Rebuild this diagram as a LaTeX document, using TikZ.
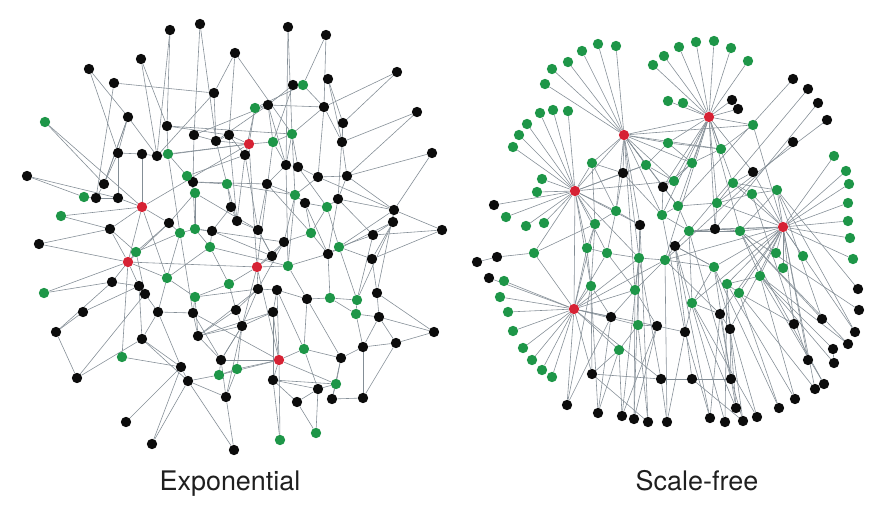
\documentclass[tikz,border=0pt]{standalone}
\usepackage{fontspec}
\setmainfont{TeX Gyre Heros}
\pgfdeclarelayer{bg}
\pgfsetlayers{bg,main}
\definecolor{nodegreen}{RGB}{30,150,72}
\definecolor{nodered}{RGB}{214,34,52}
\definecolor{nodeblack}{RGB}{12,12,12}
\definecolor{edgegray}{RGB}{132,142,150}
\begin{document}
\begin{tikzpicture}[x=0.03cm, y=-0.03cm,
  dot/.style={circle, inner sep=0pt, minimum size=3.1mm},
  kn/.style={dot, fill=nodeblack},
  gn/.style={dot, fill=nodegreen},
  rn/.style={dot, fill=nodered},
  edge/.style={draw=edgegray, line width=0.5pt},
  caption/.style={anchor=base, text=black!88, font=\fontsize{23}{27}\selectfont}]
\useasboundingbox (0,0) rectangle (883,506);
% ---------------- exponential network ----------------
% black nodes
\foreach \n/\x/\y in {e1/170/30, e2/200/24, e3/235/53, e4/141/59, e5/89/69, e6/114/83, e7/214/93,
  e9/128/117, e10/167/126, e11/194/135, e12/216/141, e13/229/135, e14/118/153, e15/142/154,
  e16/157/156, e18/27/176, e20/193/182, e22/104/184, e25/96/198, e26/118/198, e28/231/207,
  e30/169/223, e31/237/221, e32/110/229, e35/212/231, e36/288/27, e37/326/35, e38/397/72,
  e39/293/85, e41/328/79, e43/268/105, e44/324/107, e45/417/112, e46/343/123, e50/342/142,
  e51/245/155, e52/432/153, e53/286/165, e54/298/167, e55/318/177, e56/347/176, e57/267/184,
  e59/305/203, e61/338/199, e62/394/210, e63/393/222, e64/442/230, e65/373/235, e67/258/230,
  e68/39/244, e73/112/282, e74/139/286, e75/145/294, e79/83/312, e80/158/312, e81/193/313,
  e82/236/310, e83/56/332, e84/142/339, e85/198/336, e87/181/367, e88/221/360, e91/188/381,
  e92/77/378, e93/226/397, e94/126/422, e95/152/444, e96/234/450, e97/284/242, e99/272/256,
  e100/328/254, e103/372/259, e104/258/289, e105/277/290, e106/307/299, e109/377/293,
  e111/379/317, e112/273/312, e113/242/326, e114/434/332, e115/396/343, e116/363/347,
  e119/341/358, e120/273/380, e122/318/389, e123/297/402, e124/332/399, e125/363/398}
  \node[kn] (\n) at (\x,\y) {};
% green nodes
\foreach \n/\x/\y in {e8/45/122, e17/168/154, e19/187/176, e21/227/184, e23/195/193, e24/84/197,
  e29/61/216, e33/180/233, e34/195/229, e40/303/85, e42/255/108, e47/292/134, e49/273/142,
  e58/295/195, e60/327/207, e66/311/233, e69/210/247, e70/136/252, e72/44/293, e76/167/278,
  e77/195/297, e78/229/284, e86/122/357, e89/219/375, e90/237/369, e98/339/247, e102/288/266,
  e107/330/298, e108/357/300, e110/356/314, e117/304/349, e121/336/384, e126/280/440, e127/316/433}
  \node[gn] (\n) at (\x,\y) {};
% red nodes
\foreach \n/\x/\y in {e27/142/207, e48/249/144, e71/128/262, e101/257/267, e118/279/360}
  \node[rn] (\n) at (\x,\y) {};
% links
\begin{pgfonlayer}{bg}
\foreach \a/\b in {1/10, 2/11, 3/7, 3/47, 4/16, 5/9, 6/7, 6/25, 36/53, 37/40, 38/46, 39/40,
  40/42, 41/50, 45/50, 52/56, 64/65, 64/62, 114/109, 126/120, 127/123, 96/93, 95/87, 94/87,
  92/75, 83/92, 83/79, 72/71, 68/32, 86/87, 86/71, 79/74, 8/27, 18/26, 29/27, 24/25,
  7/12, 7/16, 9/16, 10/17, 10/13, 11/20, 11/12, 12/13, 13/48, 12/21, 14/22, 14/15, 15/16,
  15/27, 16/17, 17/19, 19/20, 19/23, 20/21, 21/28, 22/25, 25/26, 26/27, 27/30, 27/32, 23/30,
  23/34, 28/31, 28/35, 30/33, 33/34, 34/35, 31/67, 31/51, 35/69, 32/70, 32/71, 33/70, 70/71,
  71/73, 71/74, 73/74, 74/75, 75/80, 76/33, 76/77, 76/80, 77/81, 77/78, 78/82, 69/78, 69/76,
  80/84, 81/85, 82/85, 84/87, 85/88, 87/91, 88/89, 89/90, 90/93, 91/93, 88/113, 82/113,
  113/90, 80/81, 42/43, 42/48, 43/49, 48/49, 48/51, 49/47, 47/53, 47/54, 44/47, 44/50, 46/50,
  50/56, 53/54, 53/57, 54/55, 55/56, 55/58, 56/61, 57/58, 57/67, 58/59, 59/60, 60/61, 61/62,
  62/63, 63/65, 65/98, 59/66, 51/67, 51/13, 48/12, 49/53, 43/44, 39/43, 40/44, 97/99, 97/101,
  99/101, 101/102, 102/100, 100/98, 98/103, 103/109, 97/66, 100/107, 107/108, 108/110,
  109/111, 110/111, 106/107, 106/105, 105/104, 104/101, 104/113, 105/112, 112/118, 118/117,
  117/106, 117/119, 119/116, 116/115, 115/111, 116/110, 118/120, 120/122, 122/121, 121/124,
  124/125, 125/116, 123/120, 122/123, 119/121, 99/67, 104/82, 112/113, 118/89, 102/58, 103/63,
  108/65, 111/114, 27/48, 71/101, 101/118, 48/101, 10/47, 21/58, 34/97, 69/102, 77/104, 76/27,
  30/71, 12/43, 19/51, 23/67, 81/118, 85/112, 20/57, 35/99, 57/66, 54/60, 59/100, 97/104,
  26/14, 22/9, 14/9, 17/48, 11/43, 55/62, 60/98, 61/100, 105/117, 106/119, 62/109, 63/108,
  113/93, 91/89, 88/118, 5/14, 4/10, 9/22, 36/47, 37/44, 38/44, 41/46, 45/56, 52/62, 46/61,
  3/13, 1/16, 2/12, 8/22, 18/24, 29/32, 68/71, 72/73, 83/73, 92/84, 95/91, 96/91, 126/118,
  127/122, 114/115, 64/103, 62/98, 63/100, 44/55, 39/49, 42/51, 43/53, 17/33, 20/34, 21/31,
  13/31, 30/70, 33/81, 34/69, 70/75, 74/84, 80/87, 84/91, 81/88, 85/113, 78/101, 67/99,
  66/100, 58/97, 60/66, 56/62, 61/65, 98/108, 107/110, 102/106, 105/118, 112/120, 117/122,
  119/124, 116/111, 115/125, 120/121, 104/85, 113/88, 90/118, 16/48, 27/71, 71/76, 101/113,
  49/101, 47/58, 53/102, 118/121, 88/93, 77/85}
  \draw[edge] (e\a) -- (e\b);
\end{pgfonlayer}
% ---------------- scale-free network ----------------
% hubs
\node[rn] (h1) at (624,135) {};
\node[rn] (h2) at (709,117) {};
\node[rn] (h3) at (575,191) {};
\node[rn] (h4) at (783,227) {};
\node[rn] (h5) at (574,309) {};
% green nodes
\foreach \n/\x/\y in {a1/598/44, a2/616/46, a3/582/51, a4/568/62, a5/552/69, a6/545/84,
  b1/664/56, b2/653/65, b3/679/47, b4/696/42, b5/714/41, b6/731/48, b7/748/61, b8/668/101,
  b9/683/103, c1/540/113, c2/553/110, c3/568/111, c4/527/124, c5/519/135, c6/513/147,
  c7/542/179, c8/537/192, c9/506/217, c10/526/226, c11/544/223, d1/834/156, d2/846/171,
  d3/849/184, d4/848/203, d5/848/221, d6/850/238, d7/853/259, d8/803/256, d9/776/253,
  d10/783/268, f1/504/281, f2/500/297, f3/508/312, f4/513/331, f5/523/348, f6/532/360,
  f7/542/370, f8/552/377, g1/668/143, g2/592/163, g3/646/165, g4/616/211, g5/595/224,
  g6/662/215, g7/674/181, g8/692/163, g9/721/149, g10/753/125, g11/733/183, g12/752/194,
  g13/777/190, g14/717/203, g15/678/206, g16/689/231, g17/740/231, g18/534/253, g19/587/248,
  g20/607/253, g21/639/258, g22/665/260, g23/591/286, g24/635/290, g25/638/325, g26/619/350,
  g27/714/267, g28/760/276, g29/727/284, g30/739/293, g31/692/303}
  \node[gn] (\n) at (\x,\y) {};
% black nodes
\foreach \n/\x/\y in {bk1/732/100, bk2/738/109, k1/623/173, k2/663/187, k3/640/225,
  k4/753/172, k5/715/229, k6/675/246, k7/611/317, k8/657/326, k9/592/374, k10/661/379,
  k11/720/314, k12/685/332, k13/730/329, k14/692/379, k15/731/379, t1/793/79, t2/808/89,
  t3/818/103, t4/827/120, t5/793/142, l1/494/205, l2/497/257, l3/477/262, l4/489/278,
  r1/567/405, r2/598/413, r3/622/416, r4/634/419, r5/648/422, r6/667/422, r7/710/418,
  r8/725/422, r9/743/421, r10/757/417, r11/779/408, r12/795/399, r13/815/389, r14/824/384,
  r15/834/363, r16/808/360, r17/833/349, r18/848/344, r19/855/332, r20/822/319, r21/794/324,
  r22/859/310, r23/858/289, r24/736/408}
  \node[kn] (\n) at (\x,\y) {};
% links
\begin{pgfonlayer}{bg}
\foreach \i in {1,...,6} \draw[edge] (h1) -- (a\i);
\foreach \i in {1,...,9} \draw[edge] (h2) -- (b\i);
\foreach \i in {1,...,11} \draw[edge] (h3) -- (c\i);
\foreach \i in {1,...,10} \draw[edge] (h4) -- (d\i);
\foreach \i in {1,...,8} \draw[edge] (h5) -- (f\i);
\foreach \a/\b in {h2/bk1, h2/bk2, bk1/bk2, t1/g15, t2/g16, t3/k5, t4/g14, t5/g22,
  l1/h3, l2/l3, l2/g18, l4/h5, r1/k7, r1/h5, r2/g23, r2/g26, r3/k8, r4/g24, r5/k3, r5/k9,
  r6/k10, r7/k12, r8/k6, r9/k14, r10/g31, r11/g27, r12/g29, r13/g30, r14/g28, r15/r17,
  r17/g28, r16/g12, r18/g17, r19/h4, r20/g13, r21/g30, r22/g17, r23/g13, r24/k13,
  h1/g1, h1/g2, h1/g3, h1/k1, h1/g7, h1/g8, h1/h2, h1/h3, h1/g4, h1/g21, h1/k3, h1/g24, h1/g10,
  h2/g9, h2/g10, h2/g8, h2/g7, h2/k2, h2/g11, h2/g14, h2/g1, h2/k4, h2/g15, h2/g22, h2/g17,
  h2/g6, h2/k5, h3/g2, h3/g5, h3/g4, h3/g18, h3/g19, h3/k1, h3/h5, h3/g20, h3/g23, h3/k3,
  h3/g3, h4/g12, h4/g13, h4/g17, h4/k5, h4/g11, h4/g27, h4/g28, h4/g29, h4/g30, h4/k4,
  h4/g14, h4/g16, h4/k13, h4/g10, h5/g19, h5/g23, h5/g18, h5/k7, h5/g26, h5/k9, h5/g24,
  h5/g20, h5/g21, h5/g25, h5/k8, h5/g5, g1/g3, g3/k1, k1/g2, g4/g5, g5/g19, g19/g20,
  g20/g21, g21/g22, g22/k6, k6/g16, g16/g15, g15/g6, g6/k2, k2/g7, g7/g8, g8/g9, g9/g10,
  g11/g12, g12/g13, g14/k5, k5/g17, g17/g28, g28/g29, g29/g30, g27/g31, g31/k12, k12/k8,
  k8/g25, g25/g26, g26/k9, k9/k10, k10/k14, k14/k15, k15/k13, k13/k11, k11/g31, g24/k7,
  k7/g23, g6/g16, k3/g4, k3/g21, g24/g22, g27/k6, g14/g11, k2/g15, k4/g11, g9/g1, g8/k2,
  k10/g21, k14/k6, k15/g27, k11/g22, k12/g6, g25/g21, k9/g23, k8/g24, g31/g16, k13/g29,
  g18/g5, g2/g4, k1/g6, g1/g8, g3/g7, k1/g4, g2/g5, g4/g20, g5/g23, g19/g23, g20/g24,
  g21/g24, g22/g27, k6/g27, g16/g17, g15/g14, g14/g12, k5/g16, g17/g13, g11/g13,
  h1/g6, h1/k2, h1/g15, h1/g9, h3/g21, h3/g7, h5/k10, h5/g22, h4/g31, h4/k11, h4/g22,
  r1/g23, r2/k7, r3/g26, r4/k8, r5/g25, r6/k12, r7/k11, r8/g29, r9/k13, r10/g27,
  r11/g30, r12/g28, r13/h4, r14/g17, r15/g28, r16/h4, r18/g28, r19/g13, r20/g17,
  r21/h4, r24/k11, r24/g31, r6/g22, r7/k6, r9/g16, r3/g21, r4/k3}
  \draw[edge] (\a) -- (\b);
\end{pgfonlayer}
% captions
\node[caption] (explabel) at (230,490) {Exponential};
\node[caption] (sflabel) at (697,490) {Scale-free};
\end{tikzpicture}
\end{document}
